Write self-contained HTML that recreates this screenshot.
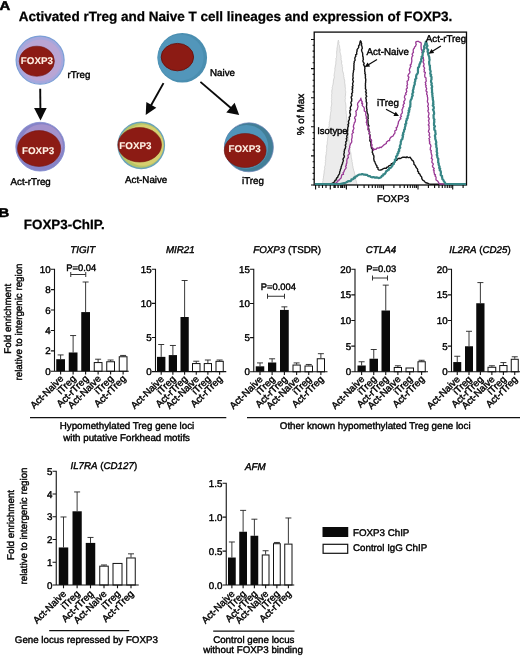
<!DOCTYPE html>
<html><head><meta charset="utf-8"><title>FOXP3 figure</title>
<style>
html,body{margin:0;padding:0;background:#fff;}
body{width:520px;height:657px;overflow:hidden;}
svg{display:block;font-family:"Liberation Sans",Arial,Helvetica,sans-serif;text-rendering:geometricPrecision;}
.t{font-size:9.75px;fill:#000;stroke:#000;stroke-width:0.4px;}
.b{font-weight:bold;}
.i{font-style:italic;}
</style></head><body>
<svg width="520" height="657" viewBox="0 0 520 657">
<rect width="520" height="657" fill="#fff"/>
<text transform="translate(-0.4,10.3) scale(1.18,1)" class="b" font-size="12.6" fill="#000" stroke="#000" stroke-width="0.5">A</text>
<text x="18.8" y="20.6" class="b" font-size="13.52" fill="#000" stroke="#000" stroke-width="0.25">Activated rTreg and Naive T cell lineages and expression of FOXP3.</text>
<circle cx="40.1" cy="60.1" r="24" fill="#a6a7dd" stroke="#7b9fd6" stroke-width="1.2"/>
<circle cx="40.5" cy="60.2" r="20.8" fill="#b9a5d4"/>
<ellipse cx="36.8" cy="61.2" rx="17.6" ry="15" fill="#8c1b14" stroke="#74140f" stroke-width="0.6"/>
<text x="20.80" y="64.20" class="b" font-size="9.8" fill="#fff1e4" stroke="#fff1e4" stroke-width="0.1">FOXP3</text>
<text x="67.50" y="77.50" class="t" text-anchor="start" >rTreg</text>
<line x1="40.20" y1="88.80" x2="40.39" y2="109.00" stroke="#0a0a0a" stroke-width="1.90"/>
<polygon points="40.50,120.50 34.08,108.06 46.68,107.94" fill="#0a0a0a"/>
<circle cx="40.2" cy="146.7" r="24.4" fill="#8783c7" stroke="#7f8ccf" stroke-width="0.8"/>
<circle cx="41.8" cy="145.2" r="21" fill="#a392cc"/>
<ellipse cx="39.1" cy="148.5" rx="21.6" ry="17.9" fill="#8c1b14" stroke="#74140f" stroke-width="0.6"/>
<text x="22.00" y="154.30" class="b" font-size="9.8" fill="#fff1e4" stroke="#fff1e4" stroke-width="0.1">FOXP3</text>
<text x="10.50" y="185.00" class="t" text-anchor="start" >Act-rTreg</text>
<circle cx="182.25" cy="57.75" r="24.8" fill="#4a8eb0"/>
<circle cx="180.6" cy="57.6" r="23" fill="#5296ba"/>
<ellipse cx="177.4" cy="57.1" rx="16.2" ry="13.7" fill="#8c1b14" stroke="#68110d" stroke-width="0.9"/>
<text x="210.00" y="76.30" class="t" text-anchor="start" >Naive</text>
<line x1="163.50" y1="83.10" x2="150.83" y2="105.74" stroke="#0a0a0a" stroke-width="1.90"/>
<polygon points="145.70,114.90 146.34,102.08 156.29,107.65" fill="#0a0a0a"/>
<line x1="200.40" y1="81.90" x2="231.21" y2="108.19" stroke="#0a0a0a" stroke-width="1.90"/>
<polygon points="239.20,115.00 226.30,112.41 234.60,102.67" fill="#0a0a0a"/>
<circle cx="141.25" cy="145.3" r="23.1" fill="#b6c568" stroke="#6ba3b8" stroke-width="1.5"/>
<circle cx="143.0" cy="145.2" r="20.6" fill="#d6cf70"/>
<ellipse cx="139.7" cy="144.8" rx="21.8" ry="17.2" fill="#8c1b14" stroke="#74140f" stroke-width="0.6"/>
<text x="119.30" y="149.20" class="b" font-size="9.8" fill="#fff1e4" stroke="#fff1e4" stroke-width="0.1">FOXP3</text>
<text x="125.00" y="182.50" class="t" text-anchor="start" >Act-Naive</text>
<circle cx="248.9" cy="147.3" r="24.5" fill="#427e97" stroke="#6d84b8" stroke-width="0.7"/>
<circle cx="246.3" cy="146.8" r="21.9" fill="#5094b8"/>
<ellipse cx="245.2" cy="150.5" rx="20.9" ry="17" fill="#8c1b14" stroke="#74140f" stroke-width="0.6"/>
<text x="228.50" y="151.90" class="b" font-size="9.8" fill="#fff1e4" stroke="#fff1e4" stroke-width="0.1">FOXP3</text>
<text x="242.00" y="183.80" class="t" text-anchor="start" >iTreg</text>
<text transform="translate(303.6,114.5) rotate(-90)" class="t" style="font-size:10px" text-anchor="middle">% of Max</text>
<path d="M322.5,184.5 L322.7,183.5 L322.7,182.4 L322.8,181.3 L323.2,180.3 L323.0,179.2 L323.4,178.2 L323.5,177.2 L323.5,176.1 L323.9,175.1 L323.8,174.0 L324.2,173.0 L324.1,171.9 L324.2,170.8 L324.5,169.8 L324.8,168.8 L324.5,167.7 L324.7,166.6 L325.1,165.6 L325.4,164.5 L325.3,163.4 L325.3,162.4 L325.7,161.3 L325.3,160.2 L325.9,159.2 L325.6,158.1 L325.7,157.0 L325.8,156.0 L326.0,154.9 L326.4,153.8 L326.1,152.7 L326.5,151.6 L326.6,150.5 L326.6,149.4 L326.8,148.3 L326.6,147.1 L326.7,146.0 L326.9,144.9 L327.3,143.9 L327.2,142.7 L327.3,141.6 L327.5,140.5 L327.6,139.4 L327.6,138.3 L328.0,137.2 L328.0,136.1 L327.8,135.0 L328.2,133.9 L328.3,132.9 L328.6,131.8 L328.6,130.8 L328.5,129.7 L329.0,128.7 L328.6,127.5 L329.0,126.5 L329.3,125.5 L329.0,124.4 L329.4,123.3 L329.2,122.2 L329.7,121.2 L329.9,120.1 L329.9,119.1 L330.2,118.0 L330.0,116.9 L330.3,115.9 L330.4,114.8 L330.5,113.7 L330.6,112.6 L330.9,111.6 L331.1,110.5 L330.9,109.4 L331.1,108.3 L330.9,107.2 L331.4,106.2 L331.5,105.1 L331.8,104.0 L331.7,102.9 L331.4,101.8 L331.5,100.8 L331.8,99.7 L331.4,98.6 L331.7,97.5 L331.6,96.5 L331.6,95.4 L331.6,94.3 L332.0,93.2 L331.7,92.1 L331.8,91.1 L331.9,90.0 L332.4,88.9 L332.1,87.6 L332.5,86.5 L332.7,85.3 L333.1,84.2 L333.2,83.0 L333.4,82.0 L333.3,81.0 L333.6,80.0 L333.7,79.0 L334.2,78.0 L334.4,76.9 L334.0,75.8 L334.2,74.7 L334.3,73.6 L334.5,72.6 L334.7,71.5 L334.9,70.4 L334.9,69.3 L334.8,68.2 L335.2,67.2 L335.3,66.1 L335.5,65.0 L335.9,64.0 L335.8,62.9 L335.8,61.8 L336.0,60.7 L336.1,59.7 L335.9,58.5 L336.5,57.5 L336.5,56.4 L336.7,55.4 L336.7,54.3 L336.6,53.2 L336.7,52.1 L336.7,51.0 L337.1,50.0 L336.9,48.9 L337.1,47.8 L337.3,46.8 L337.4,45.7 L337.7,44.7 L337.7,43.6 L337.8,42.5 L338.0,41.4 L338.4,40.2 L338.7,41.5 L339.0,42.5 L338.7,43.6 L339.0,44.7 L339.5,45.7 L339.6,46.8 L339.7,47.9 L339.9,48.9 L340.2,50.0 L339.9,51.1 L340.0,52.2 L340.4,53.3 L340.6,54.4 L340.9,55.4 L341.1,56.5 L341.0,57.6 L341.2,58.7 L341.0,59.8 L341.6,60.9 L341.8,62.0 L341.4,63.2 L341.8,64.2 L342.2,65.3 L342.1,66.4 L342.6,67.5 L342.5,68.7 L342.4,69.8 L342.6,70.9 L342.9,72.0 L343.4,73.1 L343.5,74.3 L343.8,75.4 L343.7,76.6 L344.1,77.7 L344.1,78.9 L344.6,80.0 L344.8,81.0 L344.6,82.0 L344.7,83.0 L344.9,84.0 L345.1,85.0 L345.1,86.1 L345.2,87.2 L345.5,88.4 L345.3,89.5 L345.4,90.6 L345.7,91.7 L345.7,92.8 L345.5,93.9 L345.6,95.1 L345.3,96.2 L345.2,97.3 L345.5,98.4 L345.2,99.5 L345.2,100.7 L345.2,101.8 L345.6,102.9 L345.7,104.0 L345.8,105.1 L345.9,106.1 L346.0,107.2 L345.8,108.3 L345.8,109.4 L345.9,110.4 L346.2,111.5 L346.2,112.5 L346.2,113.6 L346.7,114.6 L346.5,115.7 L346.5,116.8 L346.6,117.9 L346.8,118.9 L347.0,120.0 L347.3,121.1 L347.0,122.2 L347.4,123.3 L347.3,124.5 L347.3,125.6 L347.7,126.7 L347.8,127.8 L347.6,128.9 L347.9,130.0 L348.3,131.1 L348.4,132.2 L348.5,133.3 L348.2,134.5 L348.4,135.6 L348.9,136.6 L348.6,137.8 L348.6,138.9 L348.9,140.0 L349.2,141.1 L349.2,142.1 L349.6,143.2 L349.8,144.2 L349.4,145.4 L349.7,146.4 L349.9,147.5 L349.8,148.6 L350.2,149.6 L350.1,150.7 L350.3,151.8 L350.8,152.8 L350.9,153.8 L351.0,154.9 L351.2,156.0 L351.1,157.1 L351.5,158.1 L351.6,159.2 L352.0,160.3 L351.8,161.4 L352.3,162.4 L352.4,163.5 L352.6,164.6 L352.6,165.7 L353.0,166.8 L353.0,167.9 L353.4,168.9 L353.6,170.0 L353.8,171.0 L354.4,172.0 L354.4,173.1 L354.8,174.1 L355.1,175.1 L354.9,176.3 L355.5,177.2 L355.6,178.3 L355.7,179.4 L356.0,180.4 L356.4,181.4 L356.5,182.4 L356.8,183.5 L357.0,184.5Z" fill="#ececec" stroke="#cbcbcb" stroke-width="0.8"/>
<rect x="314.2" y="32.1" width="152.3" height="152.9" fill="none" stroke="#0a0a0a" stroke-width="1.3"/>
<path d="M314.8,184.4 L315.9,184.4 L317.0,184.4 L318.1,184.4 L319.1,184.3 L320.2,184.3 L321.3,184.3 L322.4,184.3 L323.5,184.3 L324.6,184.3 L325.7,184.3 L326.7,184.2 L327.8,184.2 L328.9,184.2 L330.0,184.2 L331.0,183.8 L332.0,183.4 L333.0,183.0 L333.8,182.3 L334.7,181.7 L334.9,180.4 L336.1,180.0 L336.3,178.9 L336.8,177.9 L337.8,177.1 L338.0,176.0 L338.6,175.0 L339.3,174.1 L339.7,173.1 L339.6,172.0 L340.1,171.0 L340.3,170.0 L340.6,169.0 L341.1,168.1 L341.1,167.0 L341.5,166.0 L341.8,164.9 L342.5,163.9 L342.5,162.7 L343.0,161.7 L343.4,160.6 L342.9,159.3 L343.5,158.2 L344.2,157.2 L344.4,156.1 L343.8,154.9 L343.9,153.8 L344.4,152.8 L344.1,151.6 L344.5,150.6 L344.5,149.5 L345.3,148.5 L345.5,147.4 L345.8,146.4 L345.2,145.2 L345.9,144.2 L346.0,143.1 L345.6,141.9 L346.6,141.0 L346.8,139.9 L346.2,138.7 L347.1,137.8 L346.7,136.6 L346.9,135.5 L347.6,134.5 L347.6,133.4 L347.0,132.3 L347.5,131.2 L347.7,130.2 L347.7,129.1 L347.7,128.0 L348.0,126.9 L348.5,125.9 L347.9,124.7 L348.7,123.7 L348.7,122.6 L348.4,121.5 L348.9,120.4 L349.4,119.4 L349.4,118.3 L349.1,117.2 L350.2,116.2 L350.2,115.1 L350.5,114.1 L349.7,112.9 L350.0,111.8 L349.8,110.7 L350.8,109.7 L350.3,108.6 L350.3,107.5 L350.7,106.5 L351.4,105.4 L351.4,104.3 L350.9,103.2 L350.9,102.1 L351.8,101.1 L351.6,100.0 L351.8,98.9 L351.2,97.8 L351.3,96.7 L352.1,95.7 L351.9,94.5 L351.6,93.4 L352.6,92.4 L352.4,91.3 L352.6,90.2 L352.0,89.1 L352.9,88.0 L352.1,86.9 L353.1,85.8 L352.7,84.7 L352.6,83.6 L353.0,82.5 L353.4,81.4 L352.8,80.2 L352.7,79.1 L353.2,78.1 L353.0,76.9 L352.9,75.8 L353.1,74.7 L353.0,73.6 L353.3,72.5 L353.5,71.4 L353.5,70.3 L354.1,69.2 L353.7,68.1 L354.0,67.0 L353.8,65.9 L354.1,64.8 L353.9,63.6 L354.3,62.6 L354.2,61.4 L355.1,60.4 L355.0,59.3 L354.8,58.2 L355.2,57.1 L355.9,56.1 L355.6,54.8 L356.8,54.1 L356.6,53.0 L356.7,52.0 L357.2,51.0 L356.9,50.0 L357.5,49.0 L358.2,48.1 L358.8,47.2 L358.5,45.9 L359.3,45.1 L359.6,44.1 L359.9,43.1 L360.0,42.0 L360.5,40.8 L361.2,41.9 L361.4,42.9 L361.7,43.9 L361.2,45.0 L361.9,46.1 L362.1,47.2 L362.3,48.3 L361.6,49.5 L361.6,50.6 L362.0,51.7 L362.5,52.8 L362.7,53.9 L362.7,55.0 L362.7,56.1 L363.2,57.1 L363.1,58.3 L363.4,59.3 L362.9,60.5 L363.0,61.6 L363.7,62.6 L364.2,63.7 L363.5,64.9 L364.4,65.9 L364.6,67.0 L365.0,68.0 L364.7,69.2 L364.7,70.2 L364.7,71.3 L365.1,72.4 L364.8,73.5 L365.5,74.5 L365.3,75.6 L365.5,76.7 L365.3,77.8 L365.7,78.9 L365.8,80.0 L365.6,81.1 L365.7,82.1 L365.4,83.3 L365.5,84.3 L365.4,85.4 L365.5,86.5 L365.5,87.6 L365.4,88.7 L366.0,89.7 L366.2,90.8 L365.5,91.9 L366.5,93.0 L365.9,94.1 L366.0,95.2 L366.8,96.3 L365.9,97.4 L365.9,98.5 L366.3,99.6 L366.2,100.7 L366.2,101.8 L366.9,102.9 L366.6,104.0 L366.7,105.1 L366.4,106.3 L366.6,107.4 L366.6,108.5 L367.0,109.6 L366.8,110.7 L367.1,111.8 L367.2,112.9 L367.8,114.0 L368.1,115.0 L368.1,116.1 L367.9,117.3 L368.3,118.3 L367.6,119.5 L368.0,120.6 L368.0,121.6 L368.1,122.7 L368.1,123.8 L368.4,124.9 L369.0,125.9 L368.3,127.1 L368.5,128.1 L368.9,129.2 L369.0,130.2 L369.0,131.3 L369.7,132.2 L369.1,133.4 L369.8,134.4 L370.1,135.4 L370.0,136.5 L369.6,137.6 L370.3,138.6 L369.9,139.7 L369.8,140.8 L370.6,141.7 L370.9,142.7 L370.9,143.8 L370.9,144.9 L371.0,145.9 L371.3,146.9 L371.5,148.0 L372.3,148.9 L372.4,149.9 L372.5,151.0 L372.2,152.3 L372.9,153.3 L372.9,154.4 L373.7,155.4 L373.9,156.5 L373.9,157.6 L373.7,158.8 L374.0,159.9 L374.2,161.1 L375.0,161.9 L375.2,163.0 L375.7,164.0 L376.1,165.0 L376.9,165.8 L376.8,167.2 L378.0,167.7 L377.9,169.1 L378.6,169.9 L379.7,170.1 L380.4,170.0 L381.4,169.8 L382.2,169.5 L383.0,168.8 L384.0,168.4 L384.9,168.2 L386.2,168.4 L386.9,167.2 L388.0,167.1 L388.8,165.9 L390.0,165.4 L391.1,165.1 L391.3,163.7 L392.6,163.6 L393.2,162.7 L394.3,162.3 L395.0,161.5 L395.5,160.5 L396.7,160.4 L397.3,159.4 L398.0,158.6 L398.9,158.3 L400.0,158.5 L401.0,158.1 L401.9,157.6 L402.9,157.1 L404.0,157.3 L405.0,157.2 L406.0,157.7 L407.0,156.7 L408.0,157.5 L408.9,157.6 L410.2,157.2 L410.8,158.4 L411.5,159.1 L412.0,160.2 L413.2,160.9 L413.6,161.9 L414.0,162.9 L413.9,164.2 L414.8,165.0 L415.5,165.9 L415.9,167.0 L416.5,167.9 L417.3,168.8 L417.7,169.8 L417.6,171.2 L418.6,171.9 L418.5,173.2 L419.7,173.9 L420.2,174.9 L420.5,175.9 L421.4,176.5 L421.8,177.5 L421.8,178.7 L422.4,179.5 L423.0,180.3 L424.1,180.9 L424.9,181.9 L425.8,182.7 L427.0,183.0 L428.1,183.4 L429.1,183.8 L430.2,184.2 L431.3,184.2 L432.4,184.2 L433.5,184.2 L434.5,184.2 L435.6,184.2 L436.7,184.2 L437.8,184.2 L438.9,184.2 L440.0,184.3 L441.0,184.3 L442.1,184.3 L443.2,184.3 L444.3,184.3 L445.4,184.3 L446.5,184.3 L447.6,184.3 L448.6,184.3 L449.7,184.3 L450.8,184.3 L451.9,184.3 L453.0,184.3 L454.1,184.3 L455.2,184.3 L456.2,184.3 L457.3,184.4 L458.4,184.4 L459.5,184.4 L460.6,184.4 L461.7,184.4 L462.7,184.4 L463.8,184.4 L464.9,184.4 L466.0,184.4" fill="none" stroke="#141414" stroke-width="1.4" stroke-linejoin="round"/>
<path d="M314.8,184.4 L315.9,184.4 L316.9,184.4 L318.0,184.4 L319.1,184.3 L320.2,184.3 L321.2,184.3 L322.3,184.3 L323.4,184.3 L324.5,184.3 L325.6,184.3 L326.6,184.3 L327.7,184.2 L328.8,184.2 L329.9,184.2 L330.9,184.2 L332.0,184.2 L333.0,183.9 L334.0,183.6 L335.0,183.3 L336.0,183.0 L336.8,182.2 L337.8,181.6 L338.0,180.2 L339.4,180.0 L339.9,179.0 L340.9,178.2 L341.4,177.1 L341.5,175.8 L341.9,174.7 L343.5,174.3 L343.0,172.7 L344.0,171.8 L344.3,170.7 L344.7,169.6 L345.6,168.7 L346.2,167.7 L345.5,166.3 L346.4,165.4 L346.2,164.1 L346.8,163.1 L346.9,162.0 L346.8,160.8 L347.0,159.7 L347.3,158.6 L348.4,157.7 L348.1,156.4 L347.9,155.3 L349.1,154.3 L349.5,153.2 L348.9,152.0 L348.7,150.8 L349.1,149.7 L349.2,148.5 L349.8,147.5 L349.6,146.3 L350.1,145.2 L350.4,144.1 L351.0,143.1 L351.7,142.1 L351.8,140.9 L351.5,139.7 L351.8,138.6 L352.1,137.6 L352.1,136.5 L352.2,135.4 L351.9,134.3 L352.4,133.3 L353.5,132.4 L352.5,131.2 L353.2,130.2 L353.5,129.2 L354.0,128.2 L353.3,127.0 L353.5,126.0 L353.7,124.9 L354.1,123.9 L354.3,122.8 L355.2,121.8 L355.3,120.6 L355.5,119.5 L354.5,118.2 L354.8,117.1 L355.9,116.1 L356.3,115.0 L356.0,113.8 L356.3,112.7 L355.7,111.5 L356.5,110.4 L357.4,109.5 L357.5,108.3 L357.8,107.2 L358.1,106.2 L357.5,104.9 L357.6,103.8 L357.9,102.9 L358.7,102.0 L359.2,101.1 L360.2,100.3 L360.5,99.2 L360.9,98.2 L360.8,99.1 L361.4,100.0 L361.5,101.0 L362.4,101.9 L361.6,103.1 L362.7,103.9 L362.1,105.2 L362.8,106.1 L363.6,106.9 L364.2,107.8 L364.4,108.9 L364.2,110.1 L364.4,111.1 L365.5,111.8 L365.9,112.8 L365.7,114.0 L365.7,115.1 L366.1,116.1 L366.5,117.1 L366.1,118.2 L367.0,119.1 L366.7,120.2 L366.7,121.3 L366.2,122.5 L366.9,123.5 L366.8,124.7 L367.6,125.6 L368.2,126.7 L368.4,127.7 L367.6,129.1 L368.2,130.1 L369.0,131.0 L369.7,132.0 L369.3,133.2 L369.3,134.4 L369.9,135.3 L370.4,136.4 L370.1,137.6 L370.0,138.7 L371.2,139.6 L371.6,140.6 L371.4,141.7 L371.5,142.8 L371.3,143.9 L372.2,144.9 L371.6,146.1 L372.1,147.1 L372.7,147.9 L373.5,148.7 L373.3,150.4 L374.6,149.1 L376.0,149.4 L376.9,148.1 L377.9,147.8 L379.1,148.1 L379.9,147.2 L381.2,147.7 L382.0,146.7 L382.8,146.0 L383.5,145.3 L384.4,144.6 L385.4,144.0 L386.4,143.4 L386.5,141.9 L387.5,141.5 L388.1,140.6 L389.6,140.7 L389.6,139.2 L390.1,138.3 L390.7,137.4 L391.7,136.7 L392.9,136.2 L393.5,135.3 L393.8,134.3 L394.6,133.7 L395.0,132.8 L394.8,131.6 L395.0,130.6 L396.4,130.0 L396.6,129.0 L396.1,127.6 L397.4,127.0 L397.4,125.9 L397.8,124.9 L398.2,123.8 L398.4,122.7 L398.5,121.5 L399.3,120.6 L399.8,119.5 L400.9,118.7 L400.1,117.3 L401.5,116.5 L400.7,115.2 L401.2,114.1 L402.1,113.2 L402.4,112.1 L402.2,110.9 L401.9,109.6 L402.7,108.7 L402.8,107.5 L403.8,106.6 L403.0,105.2 L403.5,104.2 L404.5,103.2 L403.6,101.9 L404.3,100.9 L405.0,99.9 L405.2,98.8 L404.4,97.5 L404.6,96.4 L404.9,95.3 L406.2,94.5 L405.5,93.2 L406.4,92.2 L406.8,91.2 L406.3,90.0 L406.3,88.9 L407.4,87.9 L407.1,86.8 L406.8,85.6 L407.6,84.7 L407.2,83.5 L407.3,82.4 L407.0,81.3 L408.2,80.4 L408.6,79.3 L408.4,78.2 L409.0,77.2 L407.8,75.9 L408.3,74.8 L408.9,73.8 L409.8,72.9 L410.0,71.8 L409.4,70.6 L409.4,69.4 L409.9,68.4 L410.2,67.3 L411.0,66.4 L410.1,65.1 L411.2,64.2 L411.3,63.1 L411.7,62.0 L411.8,60.9 L411.8,59.8 L411.6,58.7 L411.8,57.6 L412.1,56.6 L412.9,55.6 L412.1,54.4 L412.5,53.3 L413.5,52.4 L413.2,51.2 L413.2,50.1 L413.5,49.0 L414.5,48.1 L414.5,47.0 L415.6,46.2 L415.8,45.3 L416.3,44.4 L415.7,43.1 L415.9,41.9 L417.2,41.3 L418.5,41.3 L419.5,42.2 L420.8,42.5 L421.2,43.5 L421.2,44.7 L421.0,45.8 L421.1,46.9 L421.2,48.0 L421.2,49.1 L421.7,50.2 L422.6,51.1 L421.8,52.4 L422.7,53.4 L422.4,54.5 L422.8,55.5 L422.5,56.6 L423.4,57.5 L423.4,58.6 L423.6,59.7 L423.8,60.7 L422.9,61.9 L423.5,62.9 L424.0,63.9 L424.0,64.9 L423.3,66.1 L424.1,67.1 L424.7,68.2 L424.0,69.4 L424.4,70.5 L424.0,71.6 L425.4,72.6 L425.0,73.8 L424.7,74.9 L424.8,76.1 L424.8,77.1 L426.1,78.1 L425.9,79.2 L426.2,80.3 L426.2,81.3 L425.2,82.5 L425.8,83.5 L425.4,84.7 L426.3,85.7 L425.7,86.8 L426.4,87.8 L426.7,88.9 L426.1,90.0 L426.0,91.1 L427.2,92.1 L426.7,93.3 L426.7,94.4 L427.4,95.4 L427.3,96.5 L427.7,97.6 L427.7,98.7 L427.7,99.8 L427.4,100.9 L427.4,102.0 L428.1,103.1 L428.4,104.1 L428.1,105.3 L427.6,106.4 L428.4,107.4 L428.3,108.5 L428.5,109.6 L427.8,110.8 L428.2,111.8 L428.9,112.9 L429.0,114.0 L428.6,115.1 L428.4,116.2 L428.3,117.3 L429.2,118.3 L429.1,119.4 L428.4,120.6 L428.8,121.6 L429.1,122.7 L429.1,123.8 L428.2,124.9 L429.2,126.0 L428.9,127.1 L429.2,128.3 L429.2,129.4 L428.6,130.6 L428.4,131.8 L429.4,132.9 L429.6,134.0 L428.9,135.2 L429.7,136.3 L430.0,137.4 L428.8,138.6 L429.6,139.7 L429.2,140.9 L429.9,141.9 L429.4,143.1 L430.1,144.2 L430.7,145.2 L431.0,146.3 L430.4,147.5 L430.4,148.7 L430.2,149.8 L431.4,150.8 L430.8,152.0 L431.3,153.0 L431.3,154.1 L431.9,155.1 L431.9,156.2 L431.7,157.3 L431.3,158.4 L432.6,159.3 L432.2,160.4 L431.9,161.5 L431.9,162.6 L433.1,163.5 L433.3,164.5 L432.4,165.8 L432.6,166.8 L433.5,167.7 L434.3,168.6 L433.3,169.9 L434.3,170.8 L433.8,172.0 L434.4,173.0 L434.3,174.1 L435.5,174.9 L435.0,176.1 L436.0,176.9 L436.1,178.0 L435.9,179.2 L436.2,180.1 L437.4,180.8 L438.0,181.5 L438.5,182.4 L439.0,183.2 L439.7,184.0 L440.8,184.0 L441.9,184.0 L443.0,184.1 L444.1,184.1 L445.2,184.1 L446.3,184.1 L447.4,184.1 L448.5,184.1 L449.6,184.2 L450.7,184.2 L451.8,184.2 L452.9,184.2 L453.9,184.2 L455.0,184.2 L456.1,184.2 L457.2,184.3 L458.3,184.3 L459.4,184.3 L460.5,184.3 L461.6,184.3 L462.7,184.3 L463.8,184.4 L464.9,184.4 L466.0,184.4" fill="none" stroke="#9a3a96" stroke-width="1.3" stroke-linejoin="round"/>
<path d="M314.8,184.2 L315.9,184.2 L317.0,184.2 L318.1,184.2 L319.2,184.2 L320.3,184.2 L321.4,184.1 L322.5,184.1 L323.6,184.1 L324.7,184.1 L325.8,184.1 L326.9,184.1 L327.9,184.1 L329.0,184.1 L330.1,184.1 L331.2,184.1 L332.3,184.1 L333.4,184.1 L334.5,184.0 L335.6,184.0 L336.7,184.0 L337.8,184.0 L338.9,184.0 L340.0,184.0 L341.0,183.8 L342.0,183.6 L343.0,183.4 L344.0,183.2 L345.0,183.0 L346.0,182.6 L347.0,182.1 L347.8,181.4 L348.9,181.1 L350.1,181.2 L351.1,180.8 L351.4,179.4 L352.5,179.3 L353.5,178.9 L353.9,177.7 L355.2,177.8 L355.5,176.6 L356.6,176.3 L357.3,175.7 L358.1,175.1 L359.0,174.6 L360.1,174.5 L361.2,174.4 L362.3,174.0 L363.5,174.6 L364.8,174.6 L366.0,174.9 L367.2,174.9 L368.0,175.9 L369.0,176.1 L370.1,176.2 L370.9,177.0 L371.9,177.3 L373.0,177.2 L374.1,177.2 L375.1,177.7 L376.3,177.4 L377.4,177.6 L378.5,178.1 L379.5,178.0 L380.4,177.6 L381.3,177.0 L381.8,175.8 L383.1,175.6 L383.3,174.4 L384.5,174.1 L385.2,173.4 L385.8,172.4 L386.1,171.3 L387.3,170.8 L387.9,169.9 L389.1,169.6 L389.1,168.2 L390.4,168.0 L391.3,167.3 L391.8,166.3 L392.5,165.6 L392.7,164.4 L393.9,163.9 L393.8,162.7 L394.7,162.0 L395.1,161.0 L394.8,159.7 L395.9,159.1 L396.4,158.2 L396.0,156.8 L396.7,155.9 L397.5,155.0 L397.4,153.7 L398.5,153.0 L398.3,151.6 L399.3,150.8 L398.9,149.5 L399.6,148.5 L400.3,147.6 L399.8,146.3 L400.1,145.2 L400.7,144.2 L400.8,143.1 L400.7,142.0 L401.2,140.9 L401.4,139.8 L402.5,138.9 L402.5,137.7 L403.0,136.7 L402.5,135.4 L403.4,134.5 L403.0,133.2 L403.7,132.2 L404.1,131.1 L404.0,130.0 L404.9,129.0 L404.8,127.8 L405.1,126.7 L405.6,125.6 L405.1,124.3 L406.3,123.5 L406.1,122.3 L406.1,121.1 L406.8,120.1 L406.6,118.9 L407.7,118.2 L407.6,117.0 L407.7,116.0 L408.4,115.1 L408.4,114.0 L408.4,112.8 L409.2,111.8 L408.6,110.6 L409.6,109.6 L409.2,108.4 L409.9,107.4 L410.4,106.3 L410.2,105.1 L410.5,104.0 L410.4,102.9 L410.3,101.7 L410.6,100.6 L411.0,99.6 L411.7,98.6 L411.8,97.5 L412.1,96.4 L412.8,95.5 L412.2,94.2 L412.6,93.1 L413.3,92.2 L412.8,91.0 L413.0,89.9 L413.5,88.9 L413.5,87.8 L413.9,86.8 L414.0,85.7 L414.6,84.7 L414.8,83.7 L414.6,82.5 L415.2,81.5 L415.3,80.5 L415.1,79.3 L416.4,78.4 L416.0,77.0 L416.3,75.9 L416.5,74.8 L417.4,73.7 L417.9,72.7 L418.0,71.5 L417.9,70.3 L418.0,69.1 L418.0,67.9 L419.0,66.9 L419.3,65.8 L419.4,64.5 L420.1,63.5 L420.3,62.3 L421.2,61.3 L421.3,60.2 L421.1,59.0 L422.1,58.2 L421.5,56.9 L422.4,55.9 L422.6,54.7 L422.7,53.5 L422.8,52.4 L423.8,51.5 L423.2,50.2 L424.0,49.3 L424.6,48.3 L424.0,47.0 L424.3,45.9 L425.0,44.9 L425.2,43.7 L425.7,42.5 L425.8,41.6 L426.4,42.4 L426.6,43.6 L426.9,44.8 L427.5,45.9 L426.7,47.1 L427.0,48.1 L427.3,49.0 L428.2,49.9 L427.5,51.1 L427.7,52.0 L428.2,53.1 L428.1,54.2 L428.6,55.3 L429.0,56.4 L429.3,57.4 L429.3,58.6 L429.6,59.6 L429.4,60.7 L429.1,61.8 L429.2,62.8 L429.2,63.9 L429.4,64.9 L430.0,65.9 L429.8,67.0 L430.1,68.0 L429.8,69.2 L430.3,70.3 L430.7,71.4 L430.4,72.6 L430.2,73.8 L431.2,74.8 L430.6,76.0 L431.6,77.0 L431.4,78.2 L431.6,79.2 L431.1,80.4 L431.0,81.5 L431.3,82.6 L431.8,83.6 L431.3,84.8 L432.0,85.8 L432.2,86.9 L431.6,88.0 L432.0,89.1 L432.0,90.2 L432.1,91.3 L431.9,92.4 L432.5,93.4 L432.2,94.6 L432.5,95.6 L432.4,96.7 L432.9,97.8 L432.7,98.9 L432.9,99.9 L433.2,101.0 L433.4,102.1 L433.0,103.2 L433.6,104.2 L432.7,105.4 L433.6,106.4 L433.8,107.5 L433.8,108.6 L432.9,109.7 L433.6,110.7 L433.9,111.8 L434.1,112.9 L434.1,114.0 L433.5,115.1 L433.6,116.3 L433.6,117.4 L433.7,118.5 L434.5,119.6 L434.0,120.8 L434.4,121.9 L434.0,123.0 L434.0,124.2 L434.0,125.3 L435.0,126.3 L434.2,127.5 L434.3,128.7 L434.3,129.8 L435.3,130.8 L435.3,132.0 L435.5,133.1 L435.7,134.1 L434.9,135.3 L435.0,136.4 L435.3,137.5 L435.2,138.6 L435.5,139.7 L435.9,140.7 L436.2,141.8 L436.3,142.9 L435.7,144.0 L436.4,145.1 L436.3,146.2 L436.3,147.3 L436.9,148.3 L436.8,149.4 L436.9,150.4 L436.6,151.6 L437.1,152.6 L437.3,153.6 L436.7,154.8 L437.4,155.8 L437.2,156.9 L437.6,157.9 L438.4,158.9 L438.1,160.0 L438.3,161.1 L438.1,162.3 L438.8,163.3 L438.6,164.4 L439.0,165.5 L439.6,166.5 L439.1,167.8 L440.2,168.7 L439.6,170.0 L440.5,170.9 L440.9,172.0 L440.9,173.1 L440.7,174.3 L440.8,175.3 L442.1,175.9 L442.0,177.1 L442.3,178.1 L442.3,179.1 L443.3,179.8 L443.7,181.0 L444.5,181.9 L445.0,183.0 L445.7,184.0 L446.8,184.0 L448.0,184.0 L449.1,184.0 L450.2,184.0 L451.3,184.1 L452.5,184.1 L453.6,184.1 L454.7,184.1 L455.9,184.1 L457.0,184.1 L458.1,184.1 L459.2,184.1 L460.4,184.1 L461.5,184.2 L462.6,184.2 L463.7,184.2 L464.9,184.2 L466.0,184.2" fill="none" stroke="#378686" stroke-width="2.2" stroke-linejoin="round"/>
<path d="M314.2,185.00h-3.2M314.2,179.18h-1.6M314.2,173.36h-1.6M314.2,167.54h-1.6M314.2,161.72h-1.6M314.2,155.90h-3.2M314.2,150.08h-1.6M314.2,144.26h-1.6M314.2,138.44h-1.6M314.2,132.62h-1.6M314.2,126.80h-3.2M314.2,120.98h-1.6M314.2,115.16h-1.6M314.2,109.34h-1.6M314.2,103.52h-1.6M314.2,97.70h-3.2M314.2,91.88h-1.6M314.2,86.06h-1.6M314.2,80.24h-1.6M314.2,74.42h-1.6M314.2,68.60h-3.2M314.2,62.78h-1.6M314.2,56.96h-1.6M314.2,51.14h-1.6M314.2,45.32h-1.6M314.2,39.50h-3.2M315.6,185.0v4.6M330.3,185.0v4.6M346.4,185.0v4.6M383.5,185.0v4.6M418.0,185.0v4.6M452.7,185.0v4.6M335.2,185.0v3M338.2,185.0v3M340.7,185.0v3M342.8,185.0v3M344.7,185.0v3M357.6,185.0v3M364.1,185.0v3M368.7,185.0v3M372.3,185.0v3M375.3,185.0v3M377.8,185.0v3M379.9,185.0v3M381.8,185.0v3M393.9,185.0v3M400.0,185.0v3M404.3,185.0v3M407.6,185.0v3M410.3,185.0v3M412.7,185.0v3M414.7,185.0v3M416.4,185.0v3M428.4,185.0v3M434.6,185.0v3M438.9,185.0v3M442.3,185.0v3M445.0,185.0v3M447.3,185.0v3M449.3,185.0v3M451.1,185.0v3M463.1,185.0v3M319.0,185.0v3M322.5,185.0v3M326.0,185.0v3M334.0,185.0v3M338.0,185.0v3M342.0,185.0v3" stroke="#0a0a0a" stroke-width="1.1" fill="none"/>
<text x="366.60" y="55.10" class="t" text-anchor="start" >Act-Naive</text>
<line x1="377.00" y1="59.50" x2="368.01" y2="65.01" stroke="#0a0a0a" stroke-width="1.20"/>
<polygon points="364.60,67.10 367.61,62.44 370.12,66.53" fill="#0a0a0a"/>
<text x="377.00" y="106.20" class="t" text-anchor="start" >iTreg</text>
<line x1="386.00" y1="109.20" x2="395.47" y2="114.22" stroke="#0a0a0a" stroke-width="1.20"/>
<polygon points="399.00,116.10 393.46,115.88 395.71,111.64" fill="#0a0a0a"/>
<text x="425.80" y="41.80" class="t" text-anchor="start" >Act-rTreg</text>
<line x1="440.90" y1="46.10" x2="432.00" y2="51.60" stroke="#0a0a0a" stroke-width="1.20"/>
<polygon points="428.60,53.70 431.59,49.03 434.12,53.11" fill="#0a0a0a"/>
<text x="317.2" y="133.8" class="t" style="font-size:9.45px">Isotype</text>
<text x="377.00" y="202.00" class="t" text-anchor="start" style="font-size:9.8px">FOXP3</text>
<text transform="translate(-1.6,216.5) scale(1.18,1)" class="b" font-size="12.6" fill="#000" stroke="#000" stroke-width="0.5">B</text>
<text x="23.8" y="228.8" class="b" font-size="13.4" fill="#000" stroke="#000" stroke-width="0.25">FOXP3-ChIP.</text>
<text transform="translate(11.00,318.80) rotate(-90)" class="t" text-anchor="middle">Fold enrichment</text>
<text transform="translate(22.30,322.00) rotate(-90)" class="t" text-anchor="middle">relative to intergenic region</text>
<text x="82.80" y="252.70" class="t" text-anchor="middle"><tspan class="i">TIGIT</tspan></text>
<path d="M60.62,359.21V354.93M57.62,354.93H63.62" stroke="#222" stroke-width="0.9" fill="none"/>
<rect x="56.25" y="359.21" width="8.75" height="12.04" fill="#0a0a0a"/>
<path d="M73.12,352.48V335.55M70.12,335.55H76.12" stroke="#222" stroke-width="0.9" fill="none"/>
<rect x="68.75" y="352.48" width="8.75" height="18.77" fill="#0a0a0a"/>
<path d="M85.62,312.09V282.00M82.62,282.00H88.62" stroke="#222" stroke-width="0.9" fill="none"/>
<rect x="81.25" y="312.09" width="8.75" height="59.16" fill="#0a0a0a"/>
<path d="M98.12,362.07V359.21M95.12,359.21H101.12" stroke="#222" stroke-width="0.9" fill="none"/>
<rect x="94.25" y="362.57" width="7.75" height="8.68" fill="#fff" stroke="#111" stroke-width="1"/>
<path d="M110.62,361.25V360.03M107.62,360.03H113.62" stroke="#222" stroke-width="0.9" fill="none"/>
<rect x="106.75" y="361.75" width="7.75" height="9.50" fill="#fff" stroke="#111" stroke-width="1"/>
<path d="M123.12,356.26V355.44M120.12,355.44H126.12" stroke="#222" stroke-width="0.9" fill="none"/>
<rect x="119.25" y="356.76" width="7.75" height="14.49" fill="#fff" stroke="#111" stroke-width="1"/>
<path d="M54.50,268.75V371.25H128.75M54.50,371.25h-3.7M54.50,350.85h-3.7M54.50,330.45h-3.7M54.50,310.05h-3.7M54.50,289.65h-3.7M54.50,269.25h-3.7M60.62,371.25v3.2M73.12,371.25v3.2M85.62,371.25v3.2M98.12,371.25v3.2M110.62,371.25v3.2M123.12,371.25v3.2" stroke="#111" stroke-width="1.10" fill="none"/>
<text x="50.60" y="374.75" class="t" text-anchor="end">0</text>
<text x="50.60" y="354.35" class="t" text-anchor="end">2</text>
<text x="50.60" y="333.95" class="t" text-anchor="end">4</text>
<text x="50.60" y="313.55" class="t" text-anchor="end">6</text>
<text x="50.60" y="293.15" class="t" text-anchor="end">8</text>
<text x="50.60" y="272.75" class="t" text-anchor="end">10</text>
<text transform="translate(64.03,379.25) rotate(-45)" class="t" style="font-size:9.75px" text-anchor="end">Act-Naive</text>
<text transform="translate(76.53,379.25) rotate(-45)" class="t" style="font-size:9.75px" text-anchor="end">iTreg</text>
<text transform="translate(89.03,379.25) rotate(-45)" class="t" style="font-size:9.75px" text-anchor="end">Act-rTreg</text>
<text transform="translate(101.53,379.25) rotate(-45)" class="t" style="font-size:9.75px" text-anchor="end">Act-Naive</text>
<text transform="translate(114.03,379.25) rotate(-45)" class="t" style="font-size:9.75px" text-anchor="end">iTreg</text>
<text transform="translate(126.53,379.25) rotate(-45)" class="t" style="font-size:9.75px" text-anchor="end">Act-rTreg</text>
<text x="66.25" y="271.30" class="t" style="font-size:9.4px">P=0.04</text>
<path d="M70.75,274.50H85.75M70.75,272.00v5M85.75,272.00v5" stroke="#333" stroke-width="1" fill="none"/>
<text x="180.30" y="252.70" class="t" text-anchor="middle"><tspan class="i">MIR21</tspan></text>
<path d="M161.20,356.86V344.51M158.20,344.51H164.20" stroke="#222" stroke-width="0.9" fill="none"/>
<rect x="157.00" y="356.86" width="8.40" height="14.74" fill="#0a0a0a"/>
<path d="M172.88,355.09V345.47M169.88,345.47H175.88" stroke="#222" stroke-width="0.9" fill="none"/>
<rect x="168.75" y="355.09" width="8.25" height="16.51" fill="#0a0a0a"/>
<path d="M184.62,317.01V280.51M181.62,280.51H187.62" stroke="#222" stroke-width="0.9" fill="none"/>
<rect x="180.50" y="317.01" width="8.25" height="54.59" fill="#0a0a0a"/>
<path d="M196.25,363.07V361.23M193.25,361.23H199.25" stroke="#222" stroke-width="0.9" fill="none"/>
<rect x="192.50" y="363.57" width="7.50" height="8.03" fill="#fff" stroke="#111" stroke-width="1"/>
<path d="M207.88,363.07V360.00M204.88,360.00H210.88" stroke="#222" stroke-width="0.9" fill="none"/>
<rect x="204.25" y="363.57" width="7.25" height="8.03" fill="#fff" stroke="#111" stroke-width="1"/>
<path d="M219.62,360.82V360.00M216.62,360.00H222.62" stroke="#222" stroke-width="0.9" fill="none"/>
<rect x="216.00" y="361.32" width="7.25" height="10.28" fill="#fff" stroke="#111" stroke-width="1"/>
<path d="M155.50,268.75V371.60H226.25M155.50,371.60h-3.7M155.50,337.48h-3.7M155.50,303.37h-3.7M155.50,269.25h-3.7M161.20,371.60v3.2M172.88,371.60v3.2M184.62,371.60v3.2M196.25,371.60v3.2M207.88,371.60v3.2M219.62,371.60v3.2" stroke="#111" stroke-width="1.10" fill="none"/>
<text x="151.60" y="375.10" class="t" text-anchor="end">0</text>
<text x="151.60" y="340.98" class="t" text-anchor="end">5</text>
<text x="151.60" y="306.87" class="t" text-anchor="end">10</text>
<text x="151.60" y="272.75" class="t" text-anchor="end">15</text>
<text transform="translate(164.60,379.60) rotate(-45)" class="t" style="font-size:9.75px" text-anchor="end">Act-Naive</text>
<text transform="translate(176.28,379.60) rotate(-45)" class="t" style="font-size:9.75px" text-anchor="end">iTreg</text>
<text transform="translate(188.03,379.60) rotate(-45)" class="t" style="font-size:9.75px" text-anchor="end">Act-rTreg</text>
<text transform="translate(199.65,379.60) rotate(-45)" class="t" style="font-size:9.75px" text-anchor="end">Act-Naive</text>
<text transform="translate(211.28,379.60) rotate(-45)" class="t" style="font-size:9.75px" text-anchor="end">iTreg</text>
<text transform="translate(223.03,379.60) rotate(-45)" class="t" style="font-size:9.75px" text-anchor="end">Act-rTreg</text>
<text x="287.20" y="252.70" class="t" text-anchor="middle"><tspan class="i">FOXP3</tspan> (TSDR)</text>
<path d="M260.00,366.33V362.91M257.00,362.91H263.00" stroke="#222" stroke-width="0.9" fill="none"/>
<rect x="255.75" y="366.33" width="8.50" height="5.47" fill="#0a0a0a"/>
<path d="M272.12,362.50V358.81M269.12,358.81H275.12" stroke="#222" stroke-width="0.9" fill="none"/>
<rect x="268.00" y="362.50" width="8.25" height="9.30" fill="#0a0a0a"/>
<path d="M284.38,309.93V306.85M281.38,306.85H287.38" stroke="#222" stroke-width="0.9" fill="none"/>
<rect x="280.00" y="309.93" width="8.75" height="61.87" fill="#0a0a0a"/>
<path d="M296.62,364.55V362.91M293.62,362.91H299.62" stroke="#222" stroke-width="0.9" fill="none"/>
<rect x="293.00" y="365.05" width="7.25" height="6.75" fill="#fff" stroke="#111" stroke-width="1"/>
<path d="M308.75,365.51V364.48M305.75,364.48H311.75" stroke="#222" stroke-width="0.9" fill="none"/>
<rect x="305.00" y="366.01" width="7.50" height="5.79" fill="#fff" stroke="#111" stroke-width="1"/>
<path d="M320.88,358.26V353.68M317.88,353.68H323.88" stroke="#222" stroke-width="0.9" fill="none"/>
<rect x="317.25" y="358.76" width="7.25" height="13.04" fill="#fff" stroke="#111" stroke-width="1"/>
<path d="M253.75,268.75V371.80H327.50M253.75,371.80h-3.7M253.75,337.62h-3.7M253.75,303.43h-3.7M253.75,269.25h-3.7M260.00,371.80v3.2M272.12,371.80v3.2M284.38,371.80v3.2M296.62,371.80v3.2M308.75,371.80v3.2M320.88,371.80v3.2" stroke="#111" stroke-width="1.10" fill="none"/>
<text x="249.85" y="375.30" class="t" text-anchor="end">0</text>
<text x="249.85" y="341.12" class="t" text-anchor="end">5</text>
<text x="249.85" y="306.93" class="t" text-anchor="end">10</text>
<text x="249.85" y="272.75" class="t" text-anchor="end">15</text>
<text transform="translate(263.40,379.80) rotate(-45)" class="t" style="font-size:9.75px" text-anchor="end">Act-Naive</text>
<text transform="translate(275.52,379.80) rotate(-45)" class="t" style="font-size:9.75px" text-anchor="end">iTreg</text>
<text transform="translate(287.77,379.80) rotate(-45)" class="t" style="font-size:9.75px" text-anchor="end">Act-rTreg</text>
<text transform="translate(300.02,379.80) rotate(-45)" class="t" style="font-size:9.75px" text-anchor="end">Act-Naive</text>
<text transform="translate(312.15,379.80) rotate(-45)" class="t" style="font-size:9.75px" text-anchor="end">iTreg</text>
<text transform="translate(324.27,379.80) rotate(-45)" class="t" style="font-size:9.75px" text-anchor="end">Act-rTreg</text>
<text x="260.75" y="289.50" class="t" style="font-size:9.4px">P=0.004</text>
<path d="M267.50,296.25H284.50M267.50,293.75v5M284.50,293.75v5" stroke="#333" stroke-width="1" fill="none"/>
<text x="380.90" y="252.70" class="t" text-anchor="middle"><tspan class="i">CTLA4</tspan></text>
<path d="M361.62,365.50V361.76M358.62,361.76H364.62" stroke="#222" stroke-width="0.9" fill="none"/>
<rect x="357.50" y="365.50" width="8.25" height="6.25" fill="#0a0a0a"/>
<path d="M373.75,358.73V349.51M370.75,349.51H376.75" stroke="#222" stroke-width="0.9" fill="none"/>
<rect x="369.50" y="358.73" width="8.50" height="13.02" fill="#0a0a0a"/>
<path d="M385.75,310.51V285.14M382.75,285.14H388.75" stroke="#222" stroke-width="0.9" fill="none"/>
<rect x="381.50" y="310.51" width="8.50" height="61.24" fill="#0a0a0a"/>
<path d="M397.88,366.98V365.75M394.88,365.75H400.88" stroke="#222" stroke-width="0.9" fill="none"/>
<rect x="394.25" y="367.48" width="7.25" height="4.27" fill="#fff" stroke="#111" stroke-width="1"/>
<rect x="406.00" y="368.00" width="7.50" height="3.75" fill="#fff" stroke="#111" stroke-width="1"/>
<path d="M421.62,361.24V360.27M418.62,360.27H424.62" stroke="#222" stroke-width="0.9" fill="none"/>
<rect x="418.00" y="361.74" width="7.25" height="10.01" fill="#fff" stroke="#111" stroke-width="1"/>
<path d="M355.00,268.75V371.75H428.00M355.00,371.75h-3.7M355.00,346.12h-3.7M355.00,320.50h-3.7M355.00,294.88h-3.7M355.00,269.25h-3.7M361.62,371.75v3.2M373.75,371.75v3.2M385.75,371.75v3.2M397.88,371.75v3.2M409.75,371.75v3.2M421.62,371.75v3.2" stroke="#111" stroke-width="1.10" fill="none"/>
<text x="351.10" y="375.25" class="t" text-anchor="end">0</text>
<text x="351.10" y="349.62" class="t" text-anchor="end">5</text>
<text x="351.10" y="324.00" class="t" text-anchor="end">10</text>
<text x="351.10" y="298.38" class="t" text-anchor="end">15</text>
<text x="351.10" y="272.75" class="t" text-anchor="end">20</text>
<text transform="translate(365.02,379.75) rotate(-45)" class="t" style="font-size:9.75px" text-anchor="end">Act-Naive</text>
<text transform="translate(377.15,379.75) rotate(-45)" class="t" style="font-size:9.75px" text-anchor="end">iTreg</text>
<text transform="translate(389.15,379.75) rotate(-45)" class="t" style="font-size:9.75px" text-anchor="end">Act-rTreg</text>
<text transform="translate(401.27,379.75) rotate(-45)" class="t" style="font-size:9.75px" text-anchor="end">Act-Naive</text>
<text transform="translate(413.15,379.75) rotate(-45)" class="t" style="font-size:9.75px" text-anchor="end">iTreg</text>
<text transform="translate(425.02,379.75) rotate(-45)" class="t" style="font-size:9.75px" text-anchor="end">Act-rTreg</text>
<text x="366.25" y="271.75" class="t" style="font-size:9.4px">P=0.03</text>
<path d="M372.50,278.00H387.50M372.50,275.50v5M387.50,275.50v5" stroke="#333" stroke-width="1" fill="none"/>
<text x="480.00" y="252.70" class="t" text-anchor="middle"><tspan class="i">IL2RA</tspan> (<tspan class="i">CD25</tspan>)</text>
<path d="M457.25,362.06V356.26M454.25,356.26H460.25" stroke="#222" stroke-width="0.9" fill="none"/>
<rect x="453.25" y="362.06" width="8.00" height="9.74" fill="#0a0a0a"/>
<path d="M469.00,346.27V331.29M466.00,331.29H472.00" stroke="#222" stroke-width="0.9" fill="none"/>
<rect x="465.00" y="346.27" width="8.00" height="25.53" fill="#0a0a0a"/>
<path d="M480.38,303.25V282.58M477.38,282.58H483.38" stroke="#222" stroke-width="0.9" fill="none"/>
<rect x="476.25" y="303.25" width="8.25" height="68.55" fill="#0a0a0a"/>
<path d="M491.88,366.78V365.75M488.88,365.75H494.88" stroke="#222" stroke-width="0.9" fill="none"/>
<rect x="488.00" y="367.28" width="7.75" height="4.52" fill="#fff" stroke="#111" stroke-width="1"/>
<path d="M503.38,365.03V362.57M500.38,362.57H506.38" stroke="#222" stroke-width="0.9" fill="none"/>
<rect x="499.75" y="365.53" width="7.25" height="6.27" fill="#fff" stroke="#111" stroke-width="1"/>
<path d="M514.75,358.78V356.78M511.75,356.78H517.75" stroke="#222" stroke-width="0.9" fill="none"/>
<rect x="511.25" y="359.28" width="7.00" height="12.52" fill="#fff" stroke="#111" stroke-width="1"/>
<path d="M451.50,268.75V371.80H520.50M451.50,371.80h-3.7M451.50,346.16h-3.7M451.50,320.52h-3.7M451.50,294.89h-3.7M451.50,269.25h-3.7M457.25,371.80v3.2M469.00,371.80v3.2M480.38,371.80v3.2M491.88,371.80v3.2M503.38,371.80v3.2M514.75,371.80v3.2" stroke="#111" stroke-width="1.10" fill="none"/>
<text x="447.60" y="375.30" class="t" text-anchor="end">0</text>
<text x="447.60" y="349.66" class="t" text-anchor="end">5</text>
<text x="447.60" y="324.02" class="t" text-anchor="end">10</text>
<text x="447.60" y="298.39" class="t" text-anchor="end">15</text>
<text x="447.60" y="272.75" class="t" text-anchor="end">20</text>
<text transform="translate(460.65,379.80) rotate(-45)" class="t" style="font-size:9.75px" text-anchor="end">Act-Naive</text>
<text transform="translate(472.40,379.80) rotate(-45)" class="t" style="font-size:9.75px" text-anchor="end">iTreg</text>
<text transform="translate(483.77,379.80) rotate(-45)" class="t" style="font-size:9.75px" text-anchor="end">Act-rTreg</text>
<text transform="translate(495.27,379.80) rotate(-45)" class="t" style="font-size:9.75px" text-anchor="end">Act-Naive</text>
<text transform="translate(506.77,379.80) rotate(-45)" class="t" style="font-size:9.75px" text-anchor="end">iTreg</text>
<text transform="translate(518.15,379.80) rotate(-45)" class="t" style="font-size:9.75px" text-anchor="end">Act-rTreg</text>
<path d="M30,417.6H226.3M247,417.6H520" stroke="#111" stroke-width="1.25" fill="none"/>
<text x="127.00" y="429.30" class="t" text-anchor="middle" >Hypomethylated Treg gene loci</text>
<text x="126.60" y="441.20" class="t" text-anchor="middle" >with putative Forkhead motifs</text>
<text x="375.20" y="429.30" class="t" text-anchor="middle" >Other known hypomethylated Treg gene loci</text>
<text transform="translate(14.30,525.00) rotate(-90)" class="t" text-anchor="middle">Fold enrichment</text>
<text transform="translate(26.60,526.00) rotate(-90)" class="t" text-anchor="middle">relative to intergenic region</text>
<text x="103.80" y="468.80" class="t" text-anchor="middle"><tspan class="i">IL7RA</tspan> (<tspan class="i">CD127</tspan>)</text>
<path d="M63.50,547.46V516.98M60.50,516.98H66.50" stroke="#222" stroke-width="0.9" fill="none"/>
<rect x="58.75" y="547.46" width="9.50" height="37.54" fill="#0a0a0a"/>
<path d="M77.12,511.29V491.95M74.12,491.95H80.12" stroke="#222" stroke-width="0.9" fill="none"/>
<rect x="72.50" y="511.29" width="9.25" height="73.71" fill="#0a0a0a"/>
<path d="M90.50,542.91V537.45M87.50,537.45H93.50" stroke="#222" stroke-width="0.9" fill="none"/>
<rect x="85.75" y="542.91" width="9.50" height="42.09" fill="#0a0a0a"/>
<path d="M104.00,565.66V564.98M101.00,564.98H107.00" stroke="#222" stroke-width="0.9" fill="none"/>
<rect x="99.75" y="566.16" width="8.50" height="18.84" fill="#fff" stroke="#111" stroke-width="1"/>
<rect x="113.00" y="563.43" width="9.00" height="21.57" fill="#fff" stroke="#111" stroke-width="1"/>
<path d="M131.00,557.47V553.83M128.00,553.83H134.00" stroke="#222" stroke-width="0.9" fill="none"/>
<rect x="126.75" y="557.97" width="8.50" height="27.03" fill="#fff" stroke="#111" stroke-width="1"/>
<path d="M56.25,470.75V585.00H138.75M56.25,585.00h-3.7M56.25,562.25h-3.7M56.25,539.50h-3.7M56.25,516.75h-3.7M56.25,494.00h-3.7M56.25,471.25h-3.7M63.50,585.00v3.2M77.12,585.00v3.2M90.50,585.00v3.2M104.00,585.00v3.2M117.50,585.00v3.2M131.00,585.00v3.2" stroke="#111" stroke-width="1.10" fill="none"/>
<text x="52.35" y="588.50" class="t" text-anchor="end">0</text>
<text x="52.35" y="565.75" class="t" text-anchor="end">1</text>
<text x="52.35" y="543.00" class="t" text-anchor="end">2</text>
<text x="52.35" y="520.25" class="t" text-anchor="end">3</text>
<text x="52.35" y="497.50" class="t" text-anchor="end">4</text>
<text x="52.35" y="474.75" class="t" text-anchor="end">5</text>
<text transform="translate(66.90,594.30) rotate(-45)" class="t" style="font-size:9.75px" text-anchor="end">Act-Naive</text>
<text transform="translate(80.53,594.30) rotate(-45)" class="t" style="font-size:9.75px" text-anchor="end">iTreg</text>
<text transform="translate(93.90,594.30) rotate(-45)" class="t" style="font-size:9.75px" text-anchor="end">Act-rTreg</text>
<text transform="translate(107.40,594.30) rotate(-45)" class="t" style="font-size:9.75px" text-anchor="end">Act-Naive</text>
<text transform="translate(120.90,594.30) rotate(-45)" class="t" style="font-size:9.75px" text-anchor="end">iTreg</text>
<text transform="translate(134.40,594.30) rotate(-45)" class="t" style="font-size:9.75px" text-anchor="end">Act-rTreg</text>
<text x="255.40" y="470.00" class="t" text-anchor="middle"><tspan class="i">AFM</tspan></text>
<path d="M231.88,557.53V541.99M228.88,541.99H234.88" stroke="#222" stroke-width="0.9" fill="none"/>
<rect x="228.00" y="557.53" width="7.75" height="27.47" fill="#0a0a0a"/>
<path d="M243.12,531.75V510.38M240.12,510.38H246.12" stroke="#222" stroke-width="0.9" fill="none"/>
<rect x="239.25" y="531.75" width="7.75" height="53.25" fill="#0a0a0a"/>
<path d="M254.38,535.75V519.20M251.38,519.20H257.38" stroke="#222" stroke-width="0.9" fill="none"/>
<rect x="250.50" y="535.75" width="7.75" height="49.25" fill="#0a0a0a"/>
<path d="M265.62,554.48V550.74M262.62,550.74H268.62" stroke="#222" stroke-width="0.9" fill="none"/>
<rect x="262.25" y="554.98" width="6.75" height="30.02" fill="#fff" stroke="#111" stroke-width="1"/>
<path d="M276.88,543.21V542.47M273.88,542.47H279.88" stroke="#222" stroke-width="0.9" fill="none"/>
<rect x="273.50" y="543.71" width="6.75" height="41.29" fill="#fff" stroke="#111" stroke-width="1"/>
<path d="M288.38,543.62V517.98M285.38,517.98H291.38" stroke="#222" stroke-width="0.9" fill="none"/>
<rect x="284.75" y="544.12" width="7.25" height="40.88" fill="#fff" stroke="#111" stroke-width="1"/>
<path d="M226.25,482.75V585.00H294.25M226.25,585.00h-3.7M226.25,551.08h-3.7M226.25,517.17h-3.7M226.25,483.25h-3.7M231.88,585.00v3.2M243.12,585.00v3.2M254.38,585.00v3.2M265.62,585.00v3.2M276.88,585.00v3.2M288.38,585.00v3.2" stroke="#111" stroke-width="1.10" fill="none"/>
<text x="222.35" y="588.50" class="t" text-anchor="end">0.0</text>
<text x="222.35" y="554.58" class="t" text-anchor="end">0.5</text>
<text x="222.35" y="520.67" class="t" text-anchor="end">1.0</text>
<text x="222.35" y="486.75" class="t" text-anchor="end">1.5</text>
<text transform="translate(235.28,594.30) rotate(-45)" class="t" style="font-size:9.75px" text-anchor="end">Act-Naive</text>
<text transform="translate(246.53,594.30) rotate(-45)" class="t" style="font-size:9.75px" text-anchor="end">iTreg</text>
<text transform="translate(257.77,594.30) rotate(-45)" class="t" style="font-size:9.75px" text-anchor="end">Act-rTreg</text>
<text transform="translate(269.02,594.30) rotate(-45)" class="t" style="font-size:9.75px" text-anchor="end">Act-Naive</text>
<text transform="translate(280.27,594.30) rotate(-45)" class="t" style="font-size:9.75px" text-anchor="end">iTreg</text>
<text transform="translate(291.77,594.30) rotate(-45)" class="t" style="font-size:9.75px" text-anchor="end">Act-rTreg</text>
<path d="M49.2,630.5H129.2M213.2,631H294.5" stroke="#111" stroke-width="1.25" fill="none"/>
<text x="14.80" y="643.30" class="t" text-anchor="start" >Gene locus repressed by FOXP3</text>
<text x="253.80" y="642.70" class="t" text-anchor="middle" >Control gene locus</text>
<text x="253.00" y="652.90" class="t" text-anchor="middle" >without FOXP3 binding</text>
<rect x="322.5" y="527" width="25.75" height="10" fill="#0a0a0a"/>
<rect x="323.1" y="544.3" width="24.6" height="9" fill="#fff" stroke="#111" stroke-width="1.2"/>
<text x="353.00" y="535.50" class="t" text-anchor="start" >FOXP3 ChIP</text>
<text x="353.00" y="551.30" class="t" text-anchor="start" >Control IgG ChIP</text>
</svg>
</body></html>
